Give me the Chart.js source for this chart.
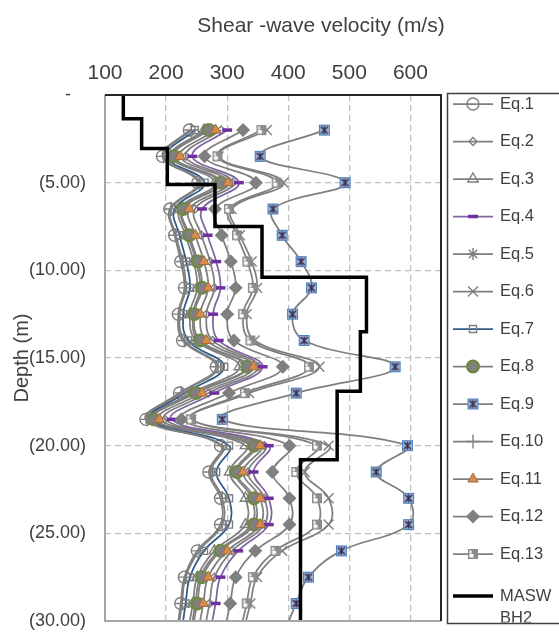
<!DOCTYPE html>
<html>
<head>
<meta charset="utf-8">
<script src="https://cdn.jsdelivr.net/npm/chart.js@4.4.1/dist/chart.umd.min.js"></script>
<style>
  html, body { margin: 0; padding: 0; background: #fff; }
</style>
</head>
<body>
<canvas id="vs" width="559" height="632"></canvas>
<script>
// SPT depths (m) and shear-wave velocity (m/s) from each equation
const depths = [2, 3.5, 5, 6.5, 8, 9.5, 11, 12.5, 14, 15.5, 17, 18.5, 20, 21.5, 23, 24.5, 26, 27.5, 29, 30.5]
const eq1 = [238, 194, 252, 206, 214, 224, 230, 220, 227, 282, 222, 167, 289, 270, 289, 289, 251, 230, 224, 218]
const eq2 = [290, 232, 309, 247, 258, 272, 279, 266, 276, 351, 269, 198, 361, 334, 361, 361, 308, 279, 271, 263]
const eq3 = [262, 208, 280, 222, 232, 245, 251, 239, 249, 320, 242, 176, 330, 304, 330, 330, 279, 251, 244, 236]
const eq4 = [300, 243, 319, 259, 268, 282, 289, 277, 286, 358, 279, 209, 368, 343, 368, 368, 318, 289, 281, 273]
const eq5 = [267, 211, 287, 226, 236, 249, 256, 244, 253, 330, 247, 178, 340, 313, 340, 340, 286, 256, 248, 241]
const eq6 = [365, 286, 392, 307, 321, 340, 349, 332, 345, 451, 336, 241, 466, 427, 466, 466, 390, 349, 338, 327]
const eq7 = [247, 201, 263, 214, 222, 233, 239, 228, 236, 295, 231, 173, 303, 282, 303, 303, 262, 239, 232, 226]
const eq8 = [270, 213, 290, 228, 238, 252, 259, 246, 256, 333, 249, 180, 344, 316, 344, 344, 289, 259, 251, 243]
const eq9 = [459, 354, 493, 375, 390, 421, 438, 407, 426, 575, 413, 292, 595, 544, 597, 597, 487, 433, 413, 395]
const eq10 = [241, 196, 255, 208, 216, 227, 232, 222, 230, 285, 225, 169, 292, 273, 292, 292, 254, 232, 226, 220]
const eq11 = [281, 223, 301, 238, 248, 262, 269, 256, 266, 343, 259, 189, 354, 326, 354, 354, 300, 269, 261, 253]
const eq12 = [326, 263, 347, 280, 291, 306, 314, 300, 311, 391, 303, 225, 402, 374, 402, 402, 346, 314, 305, 296]
const eq13 = [356, 284, 381, 303, 316, 333, 342, 326, 338, 434, 329, 241, 447, 413, 447, 447, 379, 342, 332, 322]

// MASW BH2 layers: velocity and top of layer (m)
const maswVs = [130, 160, 202, 280, 357, 528, 518, 480, 420]
const maswTop = [0, 1.35, 3.05, 5.1, 7.5, 10.4, 13.5, 16.9, 20.8]
const maxDepth = 30

const xTicks = [100, 200, 300, 400, 500, 600]

const grey = '#7f7f7f'
const txt = '#404040'
Chart.defaults.font.family = "'Liberation Sans', Arial, sans-serif"
Chart.defaults.color = txt

function eq9Marker() {
  const c = document.createElement('canvas')
  c.width = 13
  c.height = 13
  const g = c.getContext('2d')
  g.fillStyle = '#95b3d7'
  g.fillRect(1, 1, 11, 11)
  g.strokeStyle = '#4f81bd'
  g.lineWidth = 1
  g.strokeRect(1.5, 1.5, 10, 10)
  g.strokeStyle = '#403151'
  g.lineWidth = 1.6
  g.beginPath()
  g.moveTo(3, 3); g.lineTo(10, 10)
  g.moveTo(10, 3); g.lineTo(3, 10)
  g.moveTo(6.5, 2.5); g.lineTo(6.5, 10.5)
  g.stroke()
  return c
}

function eq13Marker() {
  const c = document.createElement('canvas')
  c.width = 12
  c.height = 12
  const g = c.getContext('2d')
  g.fillStyle = '#8c8c8c'
  g.fillRect(1, 1, 10, 10)
  g.fillStyle = '#fff'
  g.fillRect(2.5, 6, 4, 3.5)
  g.fillRect(2.5, 2.5, 2, 3)
  return c
}

function series(label, vals, style) {
  return Object.assign({
    label: label,
    data: depths.map((d, i) => ({ x: vals[i], y: d })),
    showLine: true,
    tension: 0.4,
    borderColor: grey,
    borderWidth: 1.75,
    pointBorderColor: grey,
    pointBackgroundColor: 'rgba(255,255,255,0)',
    pointBorderWidth: 1.4,
    pointRadius: 5
  }, style)
}

const maswPoints = []
maswVs.forEach((v, i) => {
  maswPoints.push({ x: v, y: maswTop[i] })
  maswPoints.push({ x: v, y: i + 1 < maswTop.length ? maswTop[i + 1] : maxDepth })
})

const datasets = [
  series('Eq.1', eq1, { pointStyle: 'circle', pointRadius: 6 }),
  series('Eq.2', eq2, { pointStyle: 'rectRot', pointRadius: 4 }),
  series('Eq.3', eq3, { pointStyle: 'triangle', pointRadius: 6 }),
  series('Eq.4', eq4, { pointStyle: 'line', pointRadius: 5, borderColor: '#8064a2', pointBorderColor: '#7030a0', pointBorderWidth: 3.5 }),
  series('Eq.5', eq5, { pointStyle: 'star', pointRadius: 6 }),
  series('Eq.6', eq6, { pointStyle: 'crossRot', pointRadius: 7 }),
  series('Eq.7', eq7, { pointStyle: 'rect', pointRadius: 5, borderColor: '#2f5b8a' }),
  series('Eq.8', eq8, { pointStyle: 'circle', pointRadius: 6, pointBackgroundColor: '#808080', pointBorderColor: '#6b8a3a', pointBorderWidth: 2 }),
  series('Eq.9', eq9, { pointStyle: eq9Marker(), pointRadius: 6 }),
  series('Eq.10', eq10, { pointStyle: 'cross', pointRadius: 7 }),
  series('Eq.11', eq11, { pointStyle: 'triangle', pointRadius: 6, pointBackgroundColor: '#d98c4a', pointBorderColor: '#9c6b45', pointBorderWidth: 1 }),
  series('Eq.12', eq12, { pointStyle: 'rectRot', pointRadius: 6, pointBackgroundColor: '#808080' }),
  series('Eq.13', eq13, { pointStyle: eq13Marker(), pointRadius: 6 }),
  {
    label: ['MASW', 'BH2'],
    data: maswPoints,
    showLine: true,
    tension: 0,
    borderColor: '#000',
    borderWidth: 3.5,
    pointRadius: 0
  }
]
datasets.forEach((ds, i) => { ds.order = -i })

// frame round the plot: dark top/right, grey left/bottom
const frame = {
  id: 'frame',
  afterDraw(chart) {
    const { ctx, chartArea: a } = chart
    ctx.save()
    ctx.lineWidth = 2
    ctx.strokeStyle = '#a6a6a6'
    ctx.beginPath()
    ctx.moveTo(a.left, a.top); ctx.lineTo(a.left, a.bottom); ctx.lineTo(a.right, a.bottom)
    ctx.stroke()
    ctx.strokeStyle = '#262626'
    ctx.beginPath()
    ctx.moveTo(a.left, a.top); ctx.lineTo(a.right, a.top); ctx.lineTo(a.right, a.bottom)
    ctx.stroke()

    ctx.fillStyle = txt
    ctx.font = "21px 'Liberation Sans', Arial, sans-serif"
    ctx.textAlign = 'center'
    ctx.textBaseline = 'middle'
    ctx.fillText('Shear -wave velocity (m/s)', 321, 26)
    ctx.restore()
  }
}

// legend drawn as in the sheet: line + marker, boxed at the right
const sideLegend = {
  id: 'sideLegend',
  afterDraw(chart) {
    const ctx = chart.ctx
    const box = { x: 447.5, y: 93.5, w: 130, h: 530 }
    ctx.save()
    ctx.strokeStyle = '#404040'
    ctx.lineWidth = 1.5
    ctx.strokeRect(box.x, box.y, box.w, box.h)
    ctx.beginPath()
    ctx.rect(box.x + 1, box.y + 1, box.w - 2, box.h - 2)
    ctx.clip()
    chart.data.datasets.forEach((ds, i) => {
      const y = i < 13 ? 104 + i * 37.5 : 596
      ctx.strokeStyle = ds.borderColor
      ctx.lineWidth = ds.borderWidth
      ctx.beginPath()
      ctx.moveTo(453, y)
      ctx.lineTo(493, y)
      ctx.stroke()
      if (ds.pointRadius) {
        ctx.fillStyle = ds.pointBackgroundColor
        ctx.strokeStyle = ds.pointBorderColor
        ctx.lineWidth = ds.pointBorderWidth
        Chart.helpers.drawPoint(ctx, { pointStyle: ds.pointStyle, radius: ds.pointRadius, rotation: 0, borderWidth: ds.pointBorderWidth }, 473, y)
      }
      ctx.fillStyle = txt
      ctx.font = "16.5px 'Liberation Sans', Arial, sans-serif"
      ctx.textAlign = 'left'
      ctx.textBaseline = 'middle'
      const lines = Array.isArray(ds.label) ? ds.label : [ds.label]
      lines.forEach((t, k) => ctx.fillText(t, 500, y + k * 22))
    })
    ctx.restore()
  }
}

new Chart(document.getElementById('vs'), {
  type: 'scatter',
  data: { datasets: datasets },
  plugins: [frame, sideLegend],
  options: {
    responsive: false,
    animation: false,
    events: [],
    layout: { padding: { left: 0, top: 0, right: 118, bottom: 11 } },
    plugins: { legend: { display: false }, tooltip: { enabled: false } },
    scales: {
      x: {
        type: 'linear',
        position: 'top',
        min: 100,
        max: 650,
        afterFit: (s) => { s.height = 95; s.paddingLeft = 0; s.paddingRight = 0 },
        afterBuildTicks: (s) => { s.ticks = xTicks.map(v => ({ value: v })) },
        ticks: { padding: 9, font: { size: 21 }, color: txt },
        grid: {
          drawTicks: false,
          color: (c) => (c.tick && c.tick.value === 100 ? 'rgba(0,0,0,0)' : '#bfbfbf'),
          lineWidth: 1.3
        },
        border: { display: false, dash: [6, 4] }
      },
      y: {
        type: 'linear',
        reverse: true,
        min: 0,
        max: maxDepth,
        afterFit: (s) => { s.width = 105; s.paddingTop = 0; s.paddingBottom = 0 },
        ticks: {
          stepSize: 5,
          padding: 19,
          font: { size: 18 },
          color: txt,
          callback: (v) => (v === 0 ? '-   ' : '(' + v.toFixed(2) + ')')
        },
        title: { display: true, text: 'Depth (m)', font: { size: 20 }, color: txt, padding: { top: 10, bottom: 0 } },
        grid: {
          drawTicks: false,
          color: (c) => (c.tick && (c.tick.value === 0 || c.tick.value === maxDepth) ? 'rgba(0,0,0,0)' : '#bfbfbf'),
          lineWidth: 1.3
        },
        border: { display: false, dash: [6, 4] }
      }
    }
  }
})
</script>
</body>
</html>
